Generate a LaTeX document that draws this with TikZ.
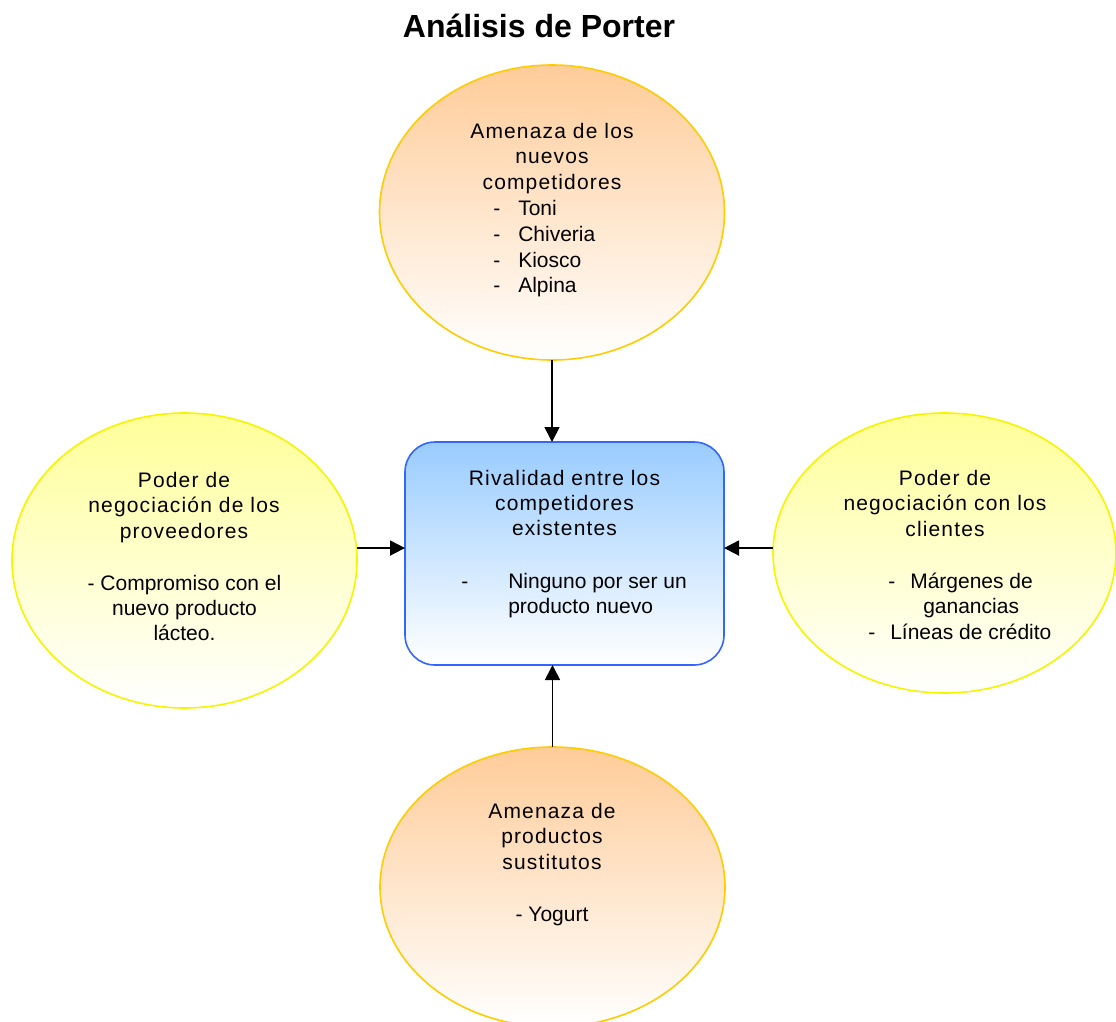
\documentclass[tikz,border=0pt]{standalone}
\usepackage{fontspec}
\setmainfont{Liberation Sans}
\newfontfamily\hfont[LetterSpace=5.5]{Liberation Sans}
\usetikzlibrary{shapes.geometric,arrows.meta}
\definecolor{peach}{HTML}{FFCC99}
\definecolor{goldline}{HTML}{FFCC00}
\definecolor{paleyellow}{HTML}{FFFF99}
\definecolor{yellowline}{HTML}{F5F500}
\definecolor{skyblue}{HTML}{99CCFF}
\definecolor{blueline}{HTML}{3366FF}
\tikzset{
  orangeell/.style={ellipse, draw=goldline, line width=1.2pt, top color=peach, bottom color=white, inner sep=0pt, outer sep=0pt},
  yellowell/.style={ellipse, draw=yellowline, line width=1.2pt, top color=paleyellow, bottom color=white, inner sep=0pt, outer sep=0pt},
  bluebox/.style={rectangle, rounded corners=22.5pt, draw=blueline, line width=1.2pt, top color=skyblue, bottom color=white, inner sep=0pt, outer sep=0pt},
  head/.style={font=\hfont\fontsize{15.75}{19}\selectfont, anchor=base, inner sep=0pt},
  body/.style={font=\fontsize{15.75}{19}\selectfont, anchor=base, inner sep=0pt},
  bodyw/.style={font=\fontsize{15.75}{19}\selectfont, anchor=base west, inner sep=0pt},
  arr/.style={line width=1.3pt, -{Triangle[length=11.25pt,width=11.25pt]}},
  titlestyle/.style={font=\bfseries\fontsize{24}{28}\selectfont, anchor=base, inner sep=0pt}
}
\begin{document}
\begin{tikzpicture}[x=0.75pt,y=-0.75pt]
\useasboundingbox (0,0) rectangle (1116,1021);

\node[titlestyle] (title) at (539,37) {Análisis de Porter};

% shapes
\node[orangeell, minimum width=258.75pt, minimum height=221.25pt] (threat) at (552,212.5) {};
\node[yellowell, minimum width=258.75pt, minimum height=221.25pt] (suppliers) at (184.5,560.5) {};
\node[yellowell, minimum width=257.25pt, minimum height=210pt] (clients) at (944.5,553) {};
\node[orangeell, minimum width=258.75pt, minimum height=210pt] (subst) at (552.5,887) {};
\node[bluebox, minimum width=239.25pt, minimum height=167.25pt] (rival) at (564.5,553.5) {};

% connectors
\coordinate (rw) at ([yshift=4.1pt]rival.west);
\coordinate (re) at ([yshift=4.1pt]rival.east);
\draw[arr] (threat.south) -- (threat.south |- rival.north);
\draw[arr] (subst.north) -- (subst.north |- rival.south);
\draw[arr] (rw -| suppliers.east) -- (rw);
\draw[arr] (re -| clients.west) -- (re);

% top ellipse text
\node[head] (th1) at (552,138) {Amenaza de los};
\node[head] (th2) at (552,163.5) {nuevos};
\node[head] (th3) at (552,189) {competidores};
\node[bodyw] (td1) at (493,215) {-};
\node[bodyw] (ti1) at (518,215) {Toni};
\node[bodyw] (td2) at (493,241) {-};
\node[bodyw] (ti2) at (518,241) {Chiveria};
\node[bodyw] (td3) at (493,267) {-};
\node[bodyw] (ti3) at (518,267) {Kiosco};
\node[bodyw] (td4) at (493,292) {-};
\node[bodyw] (ti4) at (518,292) {Alpina};

% left ellipse text
\node[head] (lh1) at (184,487) {Poder de};
\node[head] (lh2) at (184,512.5) {negociación de los};
\node[head] (lh3) at (184,538) {proveedores};
\node[body] (lb1) at (184.5,590) {- Compromiso con el};
\node[body] (lb2) at (184.5,615) {nuevo producto};
\node[body] (lb3) at (184.5,640) {lácteo.};

% right ellipse text
\node[head] (rh1) at (945,485) {Poder de};
\node[head] (rh2) at (945,510.5) {negociación con los};
\node[head] (rh3) at (945,536) {clientes};
\node[bodyw] (rd1) at (888,588) {-};
\node[bodyw] (ri1) at (910,588) {Márgenes de};
\node[bodyw] (ri1b) at (923,613.5) {ganancias};
\node[bodyw] (rd2) at (868,639) {-};
\node[bodyw] (ri2) at (890,639) {Líneas de crédito};

% center box text
\node[head] (ch1) at (564.5,485) {Rivalidad entre los};
\node[head] (ch2) at (564.5,510) {competidores};
\node[head] (ch3) at (564.5,535) {existentes};
\node[bodyw] (cd1) at (461,588) {-};
\node[bodyw] (ci1) at (508,588) {Ninguno por ser un};
\node[bodyw] (ci2) at (508,613) {producto nuevo};

% bottom ellipse text
\node[head] (bh1) at (552,818) {Amenaza de};
\node[head] (bh2) at (552,843.5) {productos};
\node[head] (bh3) at (552,869) {sustitutos};
\node[body] (bb1) at (552,921) {- Yogurt};
\end{tikzpicture}
\end{document}
